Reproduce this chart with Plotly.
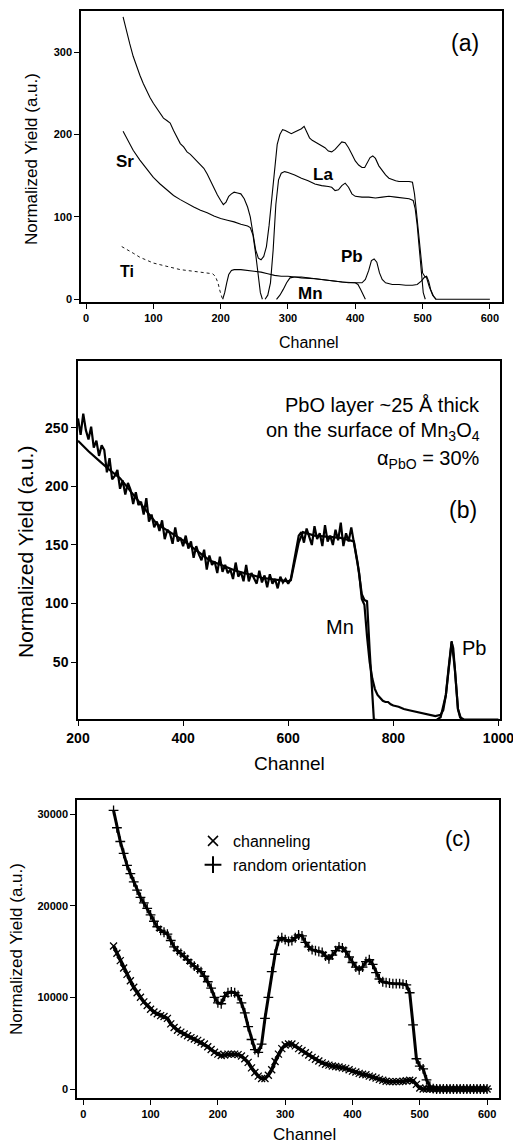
import plotly.graph_objects as go

W, H = 513, 1146
FONT = "Liberation Sans, Arial, sans-serif"

# ---------------- Panel (a) ----------------
a_total_x = [55, 60, 65, 70, 75, 80, 85, 90, 95, 100, 105, 110, 115, 120, 125, 130, 135, 140, 145, 150,
             155, 160, 165, 170, 175, 180, 185, 190, 195, 200, 204, 208, 212, 216, 220, 225, 230, 235, 240,
             244, 248, 252, 256, 260, 264, 268, 272, 276, 280, 284, 288, 292, 296, 300, 305, 310, 315, 320,
             324, 328, 332, 336, 340, 345, 350, 355, 360, 365, 370, 375, 380, 385, 390, 395, 400, 405, 410,
             414, 418, 422, 426, 430, 435, 440, 445, 450, 455, 460, 465, 470, 475, 480, 485, 488, 491, 494,
             497, 500, 503, 506, 510, 515, 520, 600]
a_total_y = [343, 325, 310, 295, 283, 272, 262, 253, 245, 238, 232, 226, 220, 217, 214, 205, 196, 189, 185, 179,
             176, 172, 167, 163, 159, 152, 143, 135, 127, 120, 115, 118, 125, 128, 130, 129, 128, 122, 112,
             100, 82, 60, 50, 48, 52, 64, 90, 121, 160, 188, 200, 206, 205, 203, 201, 203, 205, 207,
             210, 203, 196, 193, 191, 189, 187, 184, 180, 179, 182, 187, 191, 190, 184, 176, 168, 163, 160,
             160, 166, 172, 174, 171, 162, 156, 151, 147, 145, 144, 143, 143, 143, 143, 142, 128, 105, 80,
             52, 32, 28, 26, 15, 5, 0, 0]

a_sr_x = [55, 60, 70, 80, 90, 100, 110, 120, 130, 140, 150, 160, 170, 180, 190, 200, 210, 220, 230, 240, 244,
          248, 252, 256, 259, 262]
a_sr_y = [204, 196, 181, 169, 158, 148, 140, 133, 126, 121, 116, 112, 108, 105, 101, 98, 96, 94, 91, 89, 87,
          78, 55, 25, 8, 0]

a_la_x = [266, 270, 274, 278, 282, 286, 290, 295, 300, 310, 320, 330, 340, 350, 360, 365, 370, 375, 380, 385,
          390, 395, 400, 410, 420, 430, 440, 450, 460, 470, 480, 486, 489, 492, 495, 498, 501, 504]
a_la_y = [0, 5, 20, 60, 115, 145, 153, 155, 154, 151, 147, 144, 140, 138, 137, 136, 132, 133, 138, 141,
          136, 128, 125, 124, 124, 123, 124, 125, 124, 123, 122, 120, 110, 90, 60, 30, 8, 0]

a_ti_x = [53, 60, 70, 80, 90, 100, 110, 120, 130, 140, 150, 160, 170, 180, 188, 192, 196, 199, 202, 204]
a_ti_y = [64, 61, 56, 51, 47, 44, 42, 40, 38, 36, 35, 34, 33, 32, 31, 28, 20, 10, 2, 0]

a_pb_x = [203, 206, 209, 212, 216, 220, 230, 240, 250, 260, 270, 280, 290, 300, 310, 320, 340, 360, 380, 400,
          410, 415, 420, 424, 428, 432, 436, 440, 445, 455, 465, 475, 485, 492, 498, 503, 506, 509, 512, 516, 520]
a_pb_y = [0, 8, 20, 30, 35, 36, 36, 35, 34, 33, 31, 29, 28, 28, 27, 26, 25, 23, 21, 20,
          20, 24, 35, 47, 49, 45, 32, 24, 20, 18, 18, 17, 17, 18, 22, 27, 28, 22, 12, 4, 0]

a_mn_x = [283, 288, 293, 298, 303, 310, 320, 330, 340, 350, 360, 370, 380, 390, 400, 404, 408, 412, 415]
a_mn_y = [0, 5, 12, 20, 26, 27, 27, 26, 25, 24, 23, 22, 21, 20, 20, 18, 12, 5, 0]

# ---------------- Panel (b) ----------------
b_data_x = [200, 205, 210, 215, 220, 225, 230, 235, 240, 245, 250, 255, 260, 265, 270, 275, 280, 285, 290, 295,
            300, 305, 310, 315, 320, 325, 330, 335, 340, 345, 350, 355, 360, 365, 370, 375, 380, 385, 390, 395,
            400, 405, 410, 415, 420, 425, 430, 435, 440, 445, 450, 455, 460, 465, 470, 475, 480, 485, 490, 495,
            500, 505, 510, 515, 520, 525, 530, 535, 540, 545, 550, 555, 560, 565, 570, 575, 580, 585, 590, 595,
            600, 605, 610, 615, 620, 625, 630, 635, 640, 645, 650, 655, 660, 665, 670, 675, 680, 685, 690, 695,
            700, 705, 710, 715, 720, 725, 730, 735, 740, 745, 750, 755, 760,
            765, 770, 775, 780, 785, 790, 795, 800, 810, 820, 830, 840, 850, 860, 870, 880, 890, 895, 900, 905,
            908, 911, 914, 917, 920, 923, 927, 935, 1000]
b_data_y = [258, 244, 262, 248, 240, 251, 233, 239, 226, 235, 231, 212, 224, 206, 209, 214, 198, 205, 193, 203,
            197, 185, 195, 184, 187, 176, 190, 170, 176, 165, 170, 162, 171, 155, 163, 160, 151, 165, 153, 156,
            149, 158, 147, 153, 139, 149, 142, 137, 146, 129, 141, 133, 136, 126, 140, 127, 133, 126, 129, 121,
            135, 123, 127, 119, 133, 119, 126, 122, 117, 128, 118, 124, 114, 125, 117, 121, 113, 123, 118, 121,
            117, 121, 133, 148, 158, 161, 152, 164, 157, 150, 166, 155, 160, 149, 167, 153, 158, 150, 163, 154,
            169, 149, 160, 153, 165, 152, 140, 126, 104, 99, 72, 50, 36,
            27, 22, 19, 17, 16, 16, 14, 13, 12, 10, 9, 8, 7, 6, 5, 4, 5, 9, 22, 44,
            58, 67, 62, 45, 25, 10, 3, 1, 1]

b_fit_x = [200, 220, 240, 260, 280, 300, 350, 400, 450, 500, 550, 600, 605, 612, 620, 628, 650, 700, 725, 732,
           740, 745, 750, 755, 760, 763, 780, 880, 890, 900, 905, 911, 917, 923, 930, 1000]
b_fit_y = [239, 230, 222, 214, 207, 196, 168, 154, 137, 128, 122, 119, 120, 135, 152, 161, 158, 156, 153, 135,
           108, 103, 102, 60, 15, 1, 0, 0, 3, 22, 44, 68, 45, 10, 0, 0]

# ---------------- Panel (c) ----------------
c_x = [45, 50, 55, 60, 65, 70, 75, 80, 85, 90, 95, 100, 105, 110, 115, 120, 125, 130, 135, 140,
       145, 150, 155, 160, 165, 170, 175, 180, 185, 190, 195, 200, 205, 210, 215, 220, 225, 230, 235, 240,
       245, 250, 255, 260, 265, 270, 275, 280, 285, 290, 295, 300, 305, 310, 315, 320, 325, 330, 335, 340,
       345, 350, 355, 360, 365, 370, 375, 380, 385, 390, 395, 400, 405, 410, 415, 420, 425, 430, 435, 440,
       445, 450, 455, 460, 465, 470, 475, 480, 485, 490, 495, 500, 505, 510, 515, 520, 525, 530, 535, 540,
       545, 550, 555, 560, 565, 570, 575, 580, 585, 590, 595, 600]
c_random = [30400, 28500, 27000, 25700, 24400, 23500, 22600, 21700, 20900, 20300, 19700, 19000, 18300, 17700,
            17300, 17100, 16900, 16200, 15500, 15100, 14800, 14500, 14100, 13700, 13400, 13100, 12800, 12300,
            11700, 11000, 10000, 9400, 9300, 10100, 10500, 10600, 10500, 10200, 9400, 8300, 6800, 5400, 4300,
            4000, 4900, 7700, 10000, 12800, 14700, 16200, 16500, 16300, 16100, 16200, 16500, 16800, 16700,
            16000, 15500, 15200, 15100, 15000, 14900, 14500, 14200, 14600, 15100, 15500, 15400, 15000, 14400,
            13800, 13300, 13000, 13300, 13900, 14100, 13600, 12700, 12000, 11700, 11600, 11550, 11500, 11500,
            11500, 11450, 11350, 10500, 7000, 3300, 2500, 2200, 1000, 300, 50, 0, 0, 0, 0,
            0, 0, 0, 0, 0, 0, 0, 0, 0, 0, 0, 0]
c_channel = [15600, 14800, 14000, 13200, 12500, 11800, 11100, 10500, 10000, 9500, 9100, 8700, 8400, 8200,
             8000, 7900, 7700, 7100, 6700, 6400, 6200, 6000, 5800, 5600, 5450, 5300, 5100, 4900, 4600, 4300,
             4000, 3800, 3650, 3700, 3800, 3800, 3800, 3750, 3600, 3300, 2900, 2300, 1800, 1400, 1150, 1150,
             1500, 2100, 3000, 3800, 4400, 4800, 4900, 4900, 4700, 4400, 4200, 3950, 3700, 3450, 3250, 3050,
             2850, 2700, 2600, 2500, 2450, 2400, 2300, 2250, 2100, 1950, 1850, 1700, 1600, 1550, 1400, 1300,
             1200, 1050, 950, 850, 800, 800, 800, 800, 850, 900, 950, 900, 500, 100, 0, 0, 0, 0, 0, 0, 0, 0,
             0, 0, 0, 0, 0, 0, 0, 0, 0, 0, 0, 0]


def px_x(p):
    return p / W


def px_y(p):
    return 1 - p / H


fig = go.Figure()

line = dict(color="black", width=1.1)
for xs, ys in [(a_total_x, a_total_y), (a_sr_x, a_sr_y), (a_la_x, a_la_y), (a_pb_x, a_pb_y), (a_mn_x, a_mn_y)]:
    fig.add_trace(go.Scatter(x=xs, y=ys, mode="lines", line=line, xaxis="x", yaxis="y", showlegend=False))
fig.add_trace(go.Scatter(x=a_ti_x, y=a_ti_y, mode="lines", line=dict(color="black", width=0.9, dash="dot"),
                         xaxis="x", yaxis="y", showlegend=False))

fig.add_trace(go.Scatter(x=b_data_x, y=b_data_y, mode="lines", line=dict(color="black", width=2.2),
                         xaxis="x2", yaxis="y2", showlegend=False))
fig.add_trace(go.Scatter(x=b_fit_x, y=b_fit_y, mode="lines", line=dict(color="black", width=2.2),
                         xaxis="x2", yaxis="y2", showlegend=False))

fig.add_trace(go.Scatter(x=c_x, y=c_random, mode="lines+markers", line=dict(color="black", width=3),
                         marker=dict(symbol="cross-thin", size=7, line=dict(color="black", width=1.3)),
                         xaxis="x3", yaxis="y3", showlegend=False))
fig.add_trace(go.Scatter(x=c_x, y=c_channel, mode="lines+markers", line=dict(color="black", width=3.5),
                         marker=dict(symbol="x-thin", size=7, line=dict(color="black", width=1.3)),
                         xaxis="x3", yaxis="y3", showlegend=False))
fig.add_trace(go.Scatter(x=[None], y=[None], mode="markers", name="channeling",
                         marker=dict(symbol="x-thin", size=10, line=dict(color="black", width=1.5)),
                         xaxis="x3", yaxis="y3"))
fig.add_trace(go.Scatter(x=[None], y=[None], mode="markers", name="random orientation",
                         marker=dict(symbol="cross-thin", size=12, line=dict(color="black", width=2)),
                         xaxis="x3", yaxis="y3"))


def axis_common(size):
    return dict(showline=True, linecolor="black", linewidth=1.5, mirror=True, ticks="outside",
                ticklen=5, tickwidth=1.2, tickcolor="black", showgrid=False, zeroline=False,
                automargin=False, ticklabeloverflow="allow",
                tickfont=dict(family=FONT, size=size, color="black", weight="bold"))


fig.update_layout(
    width=W, height=H, margin=dict(l=0, r=0, t=0, b=0, autoexpand=False),
    paper_bgcolor="white", plot_bgcolor="white",
    font=dict(family=FONT, color="black"),
    xaxis=dict(domain=[px_x(81), px_x(502)], range=[-7.5, 618], tickvals=[0, 100, 200, 300, 400, 500, 600],
               anchor="y", **axis_common(11)),
    yaxis=dict(domain=[px_y(302), px_y(11)], range=[-3.3, 350], tickvals=[0, 100, 200, 300],
               anchor="x", **axis_common(11)),
    xaxis2=dict(domain=[px_x(78), px_x(500)], range=[200, 1003], tickvals=[200, 400, 600, 800, 1000],
                anchor="y2", **axis_common(14)),
    yaxis2=dict(domain=[px_y(719), px_y(361)], range=[1.5, 307], tickvals=[50, 100, 150, 200, 250],
                anchor="x2", **axis_common(14)),
    xaxis3=dict(domain=[px_x(77), px_x(499)], range=[-9.3, 617.7], tickvals=[0, 100, 200, 300, 400, 500, 600],
                anchor="y3", **axis_common(11)),
    yaxis3=dict(domain=[px_y(1098), px_y(800)], range=[-982, 31527], tickvals=[0, 10000, 20000, 30000],
                tickformat="d", anchor="x3", **axis_common(11)),
    legend=dict(x=px_x(193), y=px_y(824), xanchor="left", yanchor="top", bgcolor="rgba(0,0,0,0)",
                font=dict(family=FONT, size=16, color="black"), tracegroupgap=0, itemwidth=30),
)

ann = []


def add(text, x, y, size, bold=False, angle=0, xanchor="center"):
    t = f"<b>{text}</b>" if bold else text
    ann.append(dict(text=t, x=px_x(x), y=px_y(y), xref="paper", yref="paper", showarrow=False,
                    textangle=angle, xanchor=xanchor, yanchor="middle",
                    font=dict(family=FONT, size=size, color="black")))


# axis titles
add("Normalized Yield (a.u.)", 31, 159, 17, angle=-90)
add("Channel", 309, 343, 16)
add("Normalized Yield (a.u.)", 25, 552, 21, angle=-90)
add("Channel", 289, 763, 19)
add("Normalized Yield (a.u.)", 16, 949, 17, angle=-90)
add("Channel", 304, 1134, 17)

# panel (a) labels
add("(a)", 465, 43, 23)
add("Sr", 125, 162, 17, bold=True)
add("La", 323, 174, 17, bold=True)
add("Pb", 352, 257, 17, bold=True)
add("Ti", 127, 272, 16, bold=True)
add("Mn", 310, 293, 17, bold=True)

# panel (b) labels
add("PbO layer ~25 Å thick", 482, 405, 20, xanchor="right")
add("on the surface of Mn<sub>3</sub>O<sub>4</sub>", 482, 431, 20, xanchor="right")
add("α<sub>PbO</sub> = 30%", 482, 459, 20, xanchor="right")
add("(b)", 463, 510, 23)
add("Mn", 340, 627, 20)
add("Pb", 474, 648, 20)

# panel (c) label
add("(c)", 458, 838, 22)

fig.update_layout(annotations=ann)

fig.write_html("out.html")
